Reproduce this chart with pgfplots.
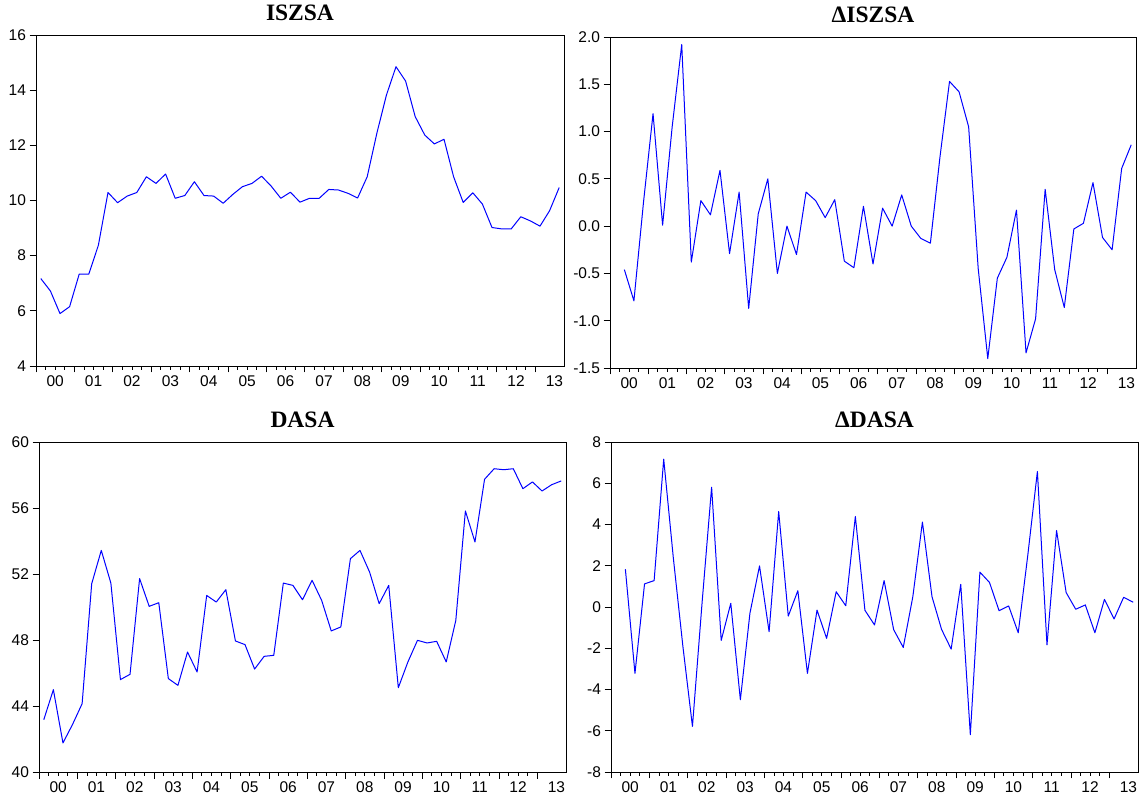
\documentclass[border=0pt]{standalone}
\usepackage{pgfplots}
\pgfplotsset{compat=1.18}
\usepackage{pgfplotstable}
\usepackage{fontspec}
\setmainfont{Liberation Sans}
\newfontfamily\titlefont{Liberation Serif}

\pgfplotstableread{
i v
0 7.17
1 6.72
2 5.90
3 6.15
4 7.33
5 7.33
6 8.38
7 10.29
8 9.92
9 10.16
10 10.29
11 10.86
12 10.62
13 10.96
14 10.08
15 10.18
16 10.68
17 10.18
18 10.16
19 9.90
20 10.22
21 10.50
22 10.62
23 10.88
24 10.52
25 10.08
26 10.30
27 9.94
28 10.08
29 10.08
30 10.40
31 10.38
32 10.26
33 10.09
34 10.86
35 12.43
36 13.82
37 14.85
38 14.33
39 13.04
40 12.37
41 12.05
42 12.22
43 10.86
44 9.93
45 10.28
46 9.87
47 9.02
48 8.97
49 8.97
50 9.41
51 9.26
52 9.07
53 9.63
54 10.47
}\iszsa

\pgfplotstableread{
i v
1 -0.46
2 -0.79
3 0.25
4 1.19
5 0.01
6 1.05
7 1.92
8 -0.38
9 0.27
10 0.12
11 0.59
12 -0.29
13 0.36
14 -0.87
15 0.13
16 0.50
17 -0.50
18 0.00
19 -0.30
20 0.36
21 0.27
22 0.09
23 0.28
24 -0.37
25 -0.44
26 0.21
27 -0.40
28 0.19
29 0.00
30 0.33
31 0.00
32 -0.13
33 -0.18
34 0.73
35 1.53
36 1.42
37 1.05
38 -0.45
39 -1.40
40 -0.55
41 -0.33
42 0.17
43 -1.34
44 -0.98
45 0.39
46 -0.46
47 -0.86
48 -0.03
49 0.03
50 0.46
51 -0.12
52 -0.25
53 0.61
54 0.86
}\diszsa

\pgfplotstableread{
i v
0 43.17
1 44.99
2 41.76
3 42.88
4 44.14
5 51.41
6 53.43
7 51.45
8 45.60
9 45.92
10 51.72
11 50.04
12 50.26
13 45.66
14 45.25
15 47.27
16 46.06
17 50.70
18 50.30
19 51.05
20 47.94
21 47.72
22 46.24
23 47.01
24 47.07
25 51.45
26 51.31
27 50.44
28 51.62
29 50.40
30 48.55
31 48.79
32 52.93
33 53.43
34 52.12
35 50.20
36 51.31
37 45.11
38 46.67
39 47.98
40 47.82
41 47.92
42 46.67
43 49.19
44 55.82
45 53.94
46 57.74
47 58.38
48 58.32
49 58.38
50 57.17
51 57.58
52 57.03
53 57.41
54 57.64
}\dasa

\pgfplotstableread{
i v
1 1.83
2 -3.22
3 1.12
4 1.28
5 7.17
6 2.40
7 -1.90
8 -5.79
9 0.18
10 5.81
11 -1.62
12 0.18
13 -4.50
14 -0.30
15 1.99
16 -1.20
17 4.63
18 -0.44
19 0.79
20 -3.22
21 -0.15
22 -1.52
23 0.74
24 0.06
25 4.39
26 -0.16
27 -0.87
28 1.28
29 -1.10
30 -1.96
31 0.50
32 4.12
33 0.50
34 -1.09
35 -2.04
36 1.10
37 -6.19
38 1.69
39 1.19
40 -0.18
41 0.05
42 -1.25
43 2.52
44 6.57
45 -1.84
46 3.71
47 0.70
48 -0.11
49 0.10
50 -1.25
51 0.37
52 -0.58
53 0.47
54 0.23
}\ddasa

\definecolor{evblue}{RGB}{0,0,255}

\pgfplotsset{
  ev/.style={
    scale only axis,
    anchor=south west,
    xmin=0, xmax=55,
    axis line style={line width=0.8pt, black},
    tick align=outside,
    xtick pos=lower,
    ytick pos=left,
    xtick={0,4,...,52},
    xticklabels={},
    minor x tick num=3,
    extra x ticks={2,6,...,54},
    extra x tick labels={00,01,02,03,04,05,06,07,08,09,10,11,12,13},
    extra x tick style={tick style={draw=none}},
    major tick length=6.5pt,
    minor tick length=4pt,
    every tick/.style={black, line width=0.8pt},
    tick label style={font=\fontsize{15.5}{18}\selectfont, black},
    title style={font=\titlefont\bfseries\fontsize{23.5}{28}\selectfont, at={(0.5,1)}, anchor=base, yshift=8.5pt},
    no markers,
    every axis plot/.append style={evblue, line width=1pt, line join=round, mark=none},
  }
}

\begin{document}
\begin{tikzpicture}
\path[use as bounding box] (0,0) rectangle (1147pt,802pt);

\begin{axis}[ev, at={(36pt,436pt)}, width=528pt, height=331pt,
  ymin=4, ymax=16, ytick={4,6,...,16}, yticklabels={4,6,8,10,12,14,16},
  title={ISZSA}]
\addplot table[x expr=\thisrow{i}+0.5, y=v] {\iszsa};
\end{axis}

\begin{axis}[ev, at={(610pt,434pt)}, width=526pt, height=331pt,
  ymin=-1.5, ymax=2.0, ytick={-1.5,-1.0,...,2.0},
  yticklabels={-1.5,-1.0,-0.5,0.0,0.5,1.0,1.5,2.0},
  title={ΔISZSA}]
\addplot table[x expr=\thisrow{i}+0.5, y=v] {\diszsa};
\end{axis}

\begin{axis}[ev, at={(39pt,30pt)}, width=527pt, height=330pt,
  ymin=40, ymax=60, ytick={40,44,...,60}, yticklabels={40,44,48,52,56,60},
  title={DASA}]
\addplot table[x expr=\thisrow{i}+0.5, y=v] {\dasa};
\end{axis}

\begin{axis}[ev, at={(611pt,30pt)}, width=527pt, height=330pt,
  ymin=-8, ymax=8, ytick={-8,-6,...,8}, yticklabels={-8,-6,-4,-2,0,2,4,6,8},
  title={ΔDASA}]
\addplot table[x expr=\thisrow{i}+0.5, y=v] {\ddasa};
\end{axis}
\end{tikzpicture}
\end{document}
